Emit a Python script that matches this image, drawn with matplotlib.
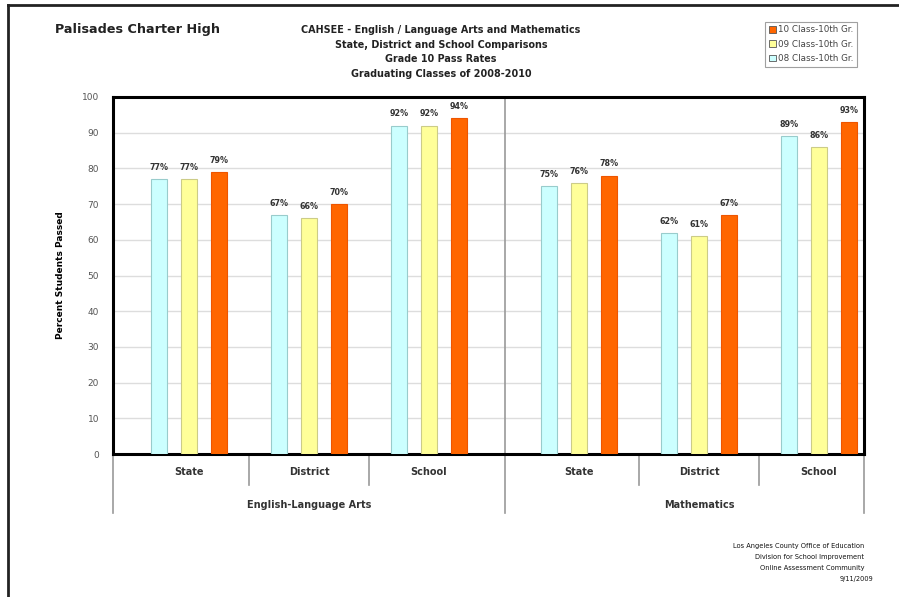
import numpy as np
import matplotlib.pyplot as plt
from matplotlib.lines import Line2D
from matplotlib.patches import Patch
import matplotlib.transforms as mtransforms

categories = ['State', 'District', 'School', 'State', 'District', 'School']
subjects = ['English-Language Arts', 'Mathematics']
series_names = ['08 Class-10th Gr.', '09 Class-10th Gr.', '10 Class-10th Gr.']
class08 = [77, 67, 92, 75, 62, 89]
class09 = [77, 66, 92, 76, 61, 86]
class10 = [79, 70, 94, 78, 67, 93]
colors = ['#CCFFFF', '#FFFF99', '#FF6600']
edges = ['#99CCCC', '#CCCC88', '#EE5500']

# group centres: a wider gap between the two subjects
x = np.array([0, 1, 2, 3.25, 4.25, 5.25])
offsets = [-0.25, 0, 0.25]
bar_w = 0.135

fig = plt.figure(figsize=(8.99, 5.97), dpi=100)
ax = fig.add_axes([113/899, 1 - 454/597, (864 - 113)/899, (454 - 97)/597])

for vals, off, c, ec, name in zip([class08, class09, class10], offsets, colors, edges, series_names):
    bars = ax.bar(x + off, vals, bar_w, color=c, edgecolor=ec, linewidth=0.8, label=name, zorder=3)
    for b, v in zip(bars, vals):
        ax.text(b.get_x() + b.get_width()/2, v + 2, f'{v}%', ha='center', va='bottom',
                fontsize=5.8, fontweight='bold', color='#333333')

ax.set_xlim(-0.633, 5.625)
ax.set_ylim(0, 100)
ax.set_yticks(range(0, 101, 10))
ax.tick_params(axis='y', labelsize=6.5, labelcolor='#555555', length=0, pad=10)
ax.set_xticks([])
ax.yaxis.grid(True, color='#dddddd', linewidth=1, zorder=0)
for s in ax.spines.values():
    s.set_linewidth(2.2)
    s.set_color('black')
ax.axvline(2.633, color='#999999', linewidth=1.2, zorder=2)
ax.set_ylabel('Percent Students Passed', fontsize=6.5, fontweight='bold', labelpad=12)

# category axis below the plot
trans = mtransforms.blended_transform_factory(ax.transData, ax.transAxes)
for xs in [0.5, 1.5, 3.75, 4.75]:
    ax.add_line(Line2D([xs, xs], [0, -0.087], transform=trans, color='#999999', lw=1.2, clip_on=False))
for xs in [-0.633, 2.633, 5.625]:
    ax.add_line(Line2D([xs, xs], [0, -0.165], transform=trans, color='#999999', lw=1.2, clip_on=False))
for xi, cat in zip(x, categories):
    ax.text(xi, -0.05, cat, transform=trans, ha='center', va='center', fontsize=7,
            fontweight='bold', color='#333333')
ax.text(1.0, -0.143, subjects[0], transform=trans, ha='center', va='center', fontsize=7,
        fontweight='bold', color='#333333')
ax.text(4.25, -0.143, subjects[1], transform=trans, ha='center', va='center', fontsize=7,
        fontweight='bold', color='#333333')

# titles
fig.text(55/899, 1 - 29/597, 'Palisades Charter High', fontsize=9.2, fontweight='bold',
         ha='left', va='center', color='#222222')
title_lines = ['CAHSEE - English / Language Arts and Mathematics',
               'State, District and School Comparisons',
               'Grade 10 Pass Rates',
               'Graduating Classes of 2008-2010']
for i, t in enumerate(title_lines):
    fig.text(441/899, 1 - (30 + 14.7*i)/597, t, fontsize=6.9, fontweight='bold',
             ha='center', va='center', color='#222222')

# legend, reversed order
handles = [Patch(facecolor=c, edgecolor='#555555', linewidth=0.6) for c in colors][::-1]
leg = fig.legend(handles, series_names[::-1], loc='upper left', bbox_to_anchor=(765/899, 1 - 22/597),
                 fontsize=6.3, frameon=True, fancybox=False, edgecolor='#888888',
                 handlelength=0.8, handleheight=0.8, handletextpad=0.3, labelspacing=0.6,
                 borderpad=0.4, borderaxespad=0)
leg.get_frame().set_linewidth(0.8)
for t in leg.get_texts():
    t.set_color('#444444')

footer = ['Los Angeles County Office of Education', 'Division for School Improvement',
          'Online Assessment Community', '9/11/2009']
for i, t in enumerate(footer):
    fig.text((864 if i < 3 else 873)/899, 1 - (546 + 11*i)/597, t, fontsize=4.8,
             ha='right', va='center', color='#111111')

# outer frame
fig.add_artist(Line2D([8/899, 1], [1 - 5/597, 1 - 5/597], transform=fig.transFigure, color='#222222', lw=2))
fig.add_artist(Line2D([8/899, 8/899], [0, 1 - 5/597], transform=fig.transFigure, color='#222222', lw=2))

fig.savefig('out.png', dpi=100)
